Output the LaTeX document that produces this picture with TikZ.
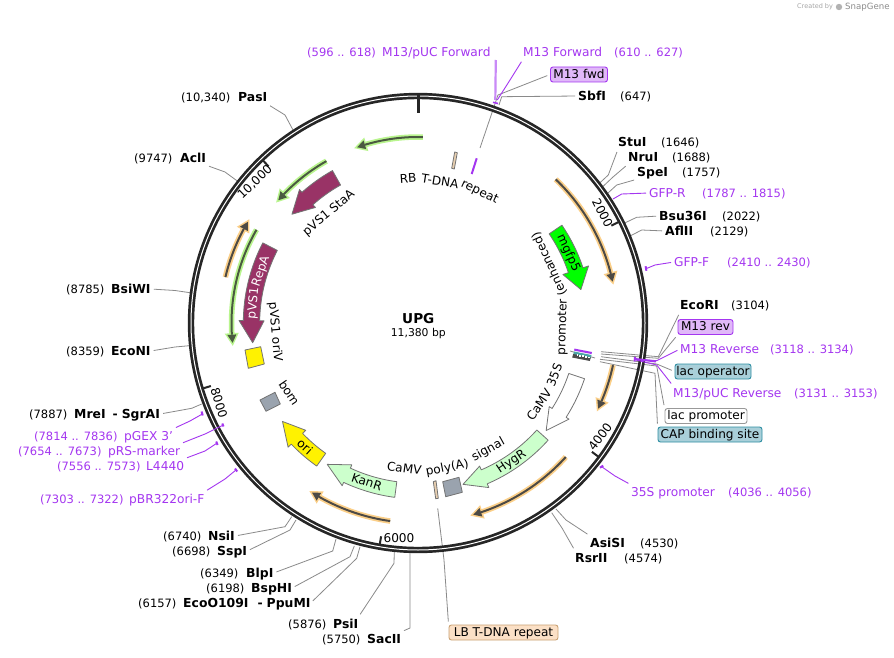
\documentclass[tikz,border=0pt]{standalone}
\usepackage{fontspec}
\setmainfont{DejaVu Sans}
\definecolor{pur}{HTML}{A436F0}
\definecolor{purl}{HTML}{C98AF7}
\definecolor{pvs}{HTML}{993366}
\definecolor{lg}{HTML}{CCFFCC}
\definecolor{grayf}{HTML}{9AA3AE}
\definecolor{tanf}{HTML}{E8CFB0}
\definecolor{ohalo}{HTML}{FBCF88}
\definecolor{ocore}{HTML}{4D4A45}
\definecolor{ghalo}{HTML}{B9F58E}
\definecolor{gcore}{HTML}{4A5A40}
\definecolor{lead}{HTML}{8A8A8A}
\definecolor{ringc}{HTML}{262626}
\definecolor{bluef}{HTML}{A9CFD9}
\definecolor{blued}{HTML}{2F8FA3}
\definecolor{purf}{HTML}{E0B8F8}
\definecolor{lbf}{HTML}{FBE0C6}
\definecolor{lbd}{HTML}{C9A173}
\tikzset{
  txt/.style={anchor=west,inner sep=0pt,text height=11.5pt,text depth=2.5pt,font=\fontsize{11.5}{14}\selectfont},
  bname/.style={txt,font=\fontsize{12.4}{15}\selectfont\bfseries},
  pname/.style={txt,text=pur,font=\fontsize{12.2}{15}\selectfont},
  pnum/.style={txt,text=pur},
  curved/.style={inner sep=0pt,font=\fontsize{12.1}{15}\selectfont},
  boxlab/.style={rounded corners=2.5pt,inner sep=0pt,line width=0.9pt,font=\fontsize{12.1}{15}\selectfont,text height=10pt,text depth=2.5pt},
  leadl/.style={draw=lead,line width=0.8pt,shorten <=3pt},
  primerl/.style={draw=pur,line width=0.9pt,shorten <=3pt},
  primerm/.style={draw=pur,line width=2pt},
  featl/.style={draw=black!55,line width=0.8pt,line join=round}
}
\newcommand\mkfeat[8]{\draw[featl,fill=#1] plot[domain=#2:#3,samples=24] ({\x-90}:{#5+#6}) -- ({#3-90}:{#5+#7}) -- ({#4-90}:{#5}) -- ({#3-90}:{#5-#7}) -- plot[domain=#3:#2,samples=24] ({\x-90}:{#5-#6}) -- cycle;#8}
\newcommand\mkorf[6]{%
  \draw[#1,line width=5.5pt,line cap=butt] plot[domain=#3:#4,samples=30] ({\x-90}:{#6});
  \filldraw[#1,line width=3pt,line join=miter] ({#4-90}:{#6+4.5}) -- ({#5-90}:{#6}) -- ({#4-90}:{#6-4.5}) -- cycle;
  \draw[#2,line width=2pt] plot[domain=#3:#4,samples=30] ({\x-90}:{#6});
  \fill[#2] ({#4-90}:{#6+4.5}) -- ({#5-90}:{#6}) -- ({#4-90}:{#6-4.5}) -- cycle;}
\newcommand\mktx[5]{\node[#4] (#1) at (#2,#3) {#5};}
\newcommand\mkldr[5]{\coordinate (#2b) at (#4);\coordinate (#2e) at (#5);\draw[#1] (#3) -- (#2b) -- (#2e);}
\newcommand\mkword[6]{\node[curved,rotate=#5,#6] (#1) at ({#2-90}:{#3}) {#4};}
\begin{document}
\begin{tikzpicture}[x=1pt,y=-1pt]
\path[fill=white] (0,0) rectangle (894,658);
\useasboundingbox (0,0) rectangle (894,658);

% SnapGene mark
\node[inner sep=0pt,anchor=west,text=black!35,font=\fontsize{6.5}{8}\selectfont] (created) at (797,7) {Created by};
\fill[black!30] (839,7) circle (3.2pt);
\node[inner sep=0pt,anchor=west,text=black!45,font=\fontsize{8.6}{10}\selectfont] (snap) at (845,7) {SnapGene};

% right-hand labels
\mktx{pufn}{307}{52}{pnum}{(596 .. 618)}
\mktx{puf}{382}{52}{pname}{M13/pUC Forward}
\mktx{mf}{523}{52}{pname}{M13 Forward}
\mktx{mfn}{614}{52}{pnum}{(610 .. 627)}
\mktx{sbf}{578}{96}{bname}{SbfI}
\mktx{sbfn}{620}{96}{txt}{(647)}
\mktx{stu}{618}{142}{bname}{StuI}
\mktx{stun}{661}{142}{txt}{(1646)}
\mktx{nru}{628}{157}{bname}{NruI}
\mktx{nrun}{672}{157}{txt}{(1688)}
\mktx{spe}{637}{172}{bname}{SpeI}
\mktx{spen}{682}{172}{txt}{(1757)}
\mktx{gfpr}{649}{193}{pname}{GFP-R}
\mktx{gfprn}{702}{193}{pnum}{(1787 .. 1815)}
\mktx{bsu}{659}{216}{bname}{Bsu36I}
\mktx{bsun}{722}{216}{txt}{(2022)}
\mktx{afl}{665}{231}{bname}{AflII}
\mktx{afln}{710}{231}{txt}{(2129)}
\mktx{gfpf}{674}{262}{pname}{GFP-F}
\mktx{gfpfn}{727}{262}{pnum}{(2410 .. 2430)}
\mktx{eco}{680}{305}{bname}{EcoRI}
\mktx{econ}{731}{305}{txt}{(3104)}
\mktx{mr}{680}{349}{pname}{M13 Reverse}
\mktx{mrn}{770}{349}{pnum}{(3118 .. 3134)}
\mktx{pur}{673}{393}{pname}{M13/pUC Reverse}
\mktx{purn}{794}{393}{pnum}{(3131 .. 3153)}
\mktx{p35}{631}{492}{pname}{35S promoter}
\mktx{p35n}{728}{492}{pnum}{(4036 .. 4056)}
\mktx{asi}{590}{543}{bname}{AsiSI}
\mktx{asin}{640}{543}{txt}{(4530)}
\mktx{rsr}{575}{558}{bname}{RsrII}
\mktx{rsrn}{624}{558}{txt}{(4574)}

% boxed labels
\node[boxlab,draw=pur,fill=purf,minimum width=57pt,minimum height=15pt] (mfwd) at (579,74.5) {M13 fwd};
\node[boxlab,draw=pur,fill=purf,minimum width=55pt,minimum height=15pt] (mrev) at (705.5,327) {M13 rev};
\node[boxlab,draw=blued,fill=bluef,minimum width=76pt,minimum height=15pt] (lacop) at (713,371.5) {lac operator};
\node[boxlab,draw=black!40,fill=white,minimum width=82pt,minimum height=15pt] (lacp) at (706,416) {lac promoter};
\node[boxlab,draw=blued,fill=bluef,minimum width=104pt,minimum height=15pt] (cap) at (710,434.5) {CAP binding site};
\node[boxlab,draw=lbd,fill=lbf,minimum width=109pt,minimum height=15pt] (lbrep) at (503.5,632.5) {LB T-DNA repeat};

% left-hand labels
\mktx{pasn}{181}{97}{txt}{(10,340)}
\mktx{pas}{238}{97}{bname}{PasI}
\mktx{acln}{134}{158}{txt}{(9747)}
\mktx{acl}{180}{158}{bname}{AclI}
\mktx{bsin}{66}{289}{txt}{(8785)}
\mktx{bsi}{111}{289}{bname}{BsiWI}
\mktx{econin}{66}{351}{txt}{(8359)}
\mktx{econi}{111}{351}{bname}{EcoNI}
\mktx{mren}{29}{414}{txt}{(7887)}
\mktx{mre}{74}{414}{bname}{MreI\hspace{7pt}-\hspace{4pt}SgrAI}
\mktx{pgexn}{34}{436}{pnum}{(7814 .. 7836)}
\mktx{pgex}{124}{436}{pname}{pGEX 3'}
\mktx{prsn}{18}{451}{pnum}{(7654 .. 7673)}
\mktx{prs}{108}{451}{pname}{pRS-marker}
\mktx{llln}{57}{466}{pnum}{(7556 .. 7573)}
\mktx{lll}{146}{466}{pname}{L4440}
\mktx{pbrn}{40}{499}{pnum}{(7303 .. 7322)}
\mktx{pbr}{129}{499}{pname}{pBR322ori-F}
\mktx{nsin}{163}{536}{txt}{(6740)}
\mktx{nsi}{208}{536}{bname}{NsiI}
\mktx{sspn}{172}{551}{txt}{(6698)}
\mktx{ssp}{217}{551}{bname}{SspI}
\mktx{blpn}{200}{573}{txt}{(6349)}
\mktx{blp}{246}{573}{bname}{BlpI}
\mktx{bspn}{206}{588}{txt}{(6198)}
\mktx{bsp}{251}{588}{bname}{BspHI}
\mktx{ecoon}{138}{603}{txt}{(6157)}
\mktx{ecoo}{183}{603}{bname}{EcoO109I\hspace{9pt}-\hspace{4pt}PpuMI}
\mktx{psin}{288}{624}{txt}{(5876)}
\mktx{psi}{333}{624}{bname}{PsiI}
\mktx{sacn}{322}{639}{txt}{(5750)}
\mktx{sac}{367}{639}{bname}{SacII}

% restriction / feature leaders (under the ring)
\mkldr{leadl}{lsbf}{sbf.west}{501.7,96.7}{499,105}
\mkldr{leadl}{lmfwd}{mfwd.west}{498,95}{480,148}
\mkldr{leadl}{lstu}{stu.south west}{608.3,175}{600,182.7}
\mkldr{leadl}{lnru}{nru.south west}{613,177}{602.7,186.7}
\mkldr{leadl}{lspe}{spe.south west}{616.7,185}{608,193}
\mkldr{leadl}{lbsu}{bsu.west}{636.7,217.3}{624,223.3}
\mkldr{leadl}{lafl}{afl.west}{641.7,230}{630.7,235.7}
\mkldr{leadl}{leco}{eco.south west}{658.3,356.7}{601,351.7}
\mkldr{leadl}{lmrev}{mrev.south west}{658.3,358.3}{601,354}
\mkldr{leadl}{llacop}{lacop.west}{656.7,364}{601,356.7}
\mkldr{leadl}{llacp}{lacp.north west}{656.7,366}{600,359.3}
\mkldr{leadl}{lcap}{cap.north west}{655,373.3}{600,361.7}
\mkldr{leadl}{lasi}{asi.north west}{566,520}{556,509}
\mkldr{leadl}{lrsr}{rsr.north west}{562,528}{551.7,512.7}
\mkldr{leadl}{lpas}{pas.south east}{285,115}{293,130}
\mkldr{leadl}{lacl}{acl.south east}{225,172}{237.3,181}
\mkldr{leadl}{lbsi}{bsi.east}{175,290.5}{190,292.7}
\mkldr{leadl}{leconi}{econi.east}{175,347}{189.3,345.7}
\mkldr{leadl}{lmre}{mre.east}{191.7,408.3}{201.7,404}
\mkldr{leadl}{lnsi}{nsi.east}{285,526.7}{291.7,516.7}
\mkldr{leadl}{lssp}{ssp.east}{290,530}{296,520}
\mkldr{leadl}{lblp}{blp.east}{332.7,551}{336,539}
\mkldr{leadl}{lbsp}{bsp.east}{350,556.7}{354.3,546}
\mkldr{leadl}{lecoo}{ecoo.east}{356.7,558.3}{360,546.7}
\mkldr{leadl}{lpsi}{psi.north east}{394,563.3}{394.3,551.7}
\mkldr{leadl}{lsac}{sac.north east}{410,628}{410,553.3}
\mkldr{leadl}{llb}{lbrep.north west}{444,560}{437.7,508.3}

\begin{scope}[shift={(418,323)}]
  % backbone
  \draw[ringc,line width=6.4pt] (0,0) circle (227pt);
  \draw[white,line width=1pt] (0,0) circle (227pt);
  % ticks
  \coordinate (t0a) at (-90:228); \coordinate (t0b) at (-90:210);
  \draw[ringc,line width=3pt] (t0a) -- (t0b);
  \foreach \bp/\nm in {63.27/ta,126.54/tb,189.81/tc,253.08/td,316.35/te}{
    \coordinate (\nm a) at ({\bp-90}:226); \coordinate (\nm b) at ({\bp-90}:216.5);
    \draw[ringc,line width=2pt] (\nm a) -- (\nm b);
  }
  % ORF arcs
  \mkorf{ghalo}{gcore}{1.5}{-16.6}{-19.1}{186}
  \mkorf{ghalo}{gcore}{-29.5}{-46.2}{-48.7}{186}
  \mkorf{ohalo}{ocore}{-76.6}{-61.6}{-59.3}{198}
  \mkorf{ghalo}{gcore}{-60}{-93.6}{-96.1}{186.5}
  \mkorf{ohalo}{ocore}{188}{209.7}{212}{200}
  \mkorf{ohalo}{ocore}{132.2}{161.6}{163.9}{199.5}
  \mkorf{ohalo}{ocore}{102.2}{113.1}{115.4}{199.5}
  \mkorf{ohalo}{ocore}{43.8}{75.7}{78}{199}
  % features
  \mkfeat{pvs}{-29.3}{-41.6}{-49.2}{166.5}{8.3}{12}{}
  \mkfeat{pvs}{-62.7}{-89.2}{-96.8}{166.5}{8.2}{12.5}{}
  \mkfeat{yellow}{215.3}{226.3}{234}{167.5}{7.8}{12.2}{}
  \mkfeat{lg}{187.6}{205}{212.7}{168}{7.9}{11.5}{}
  \mkfeat{lg}{132}{156.7}{164.4}{167.5}{7.6}{11.7}{}
  \mkfeat{white}{108.5}{122.5}{130}{167.3}{8.3}{11.7}{}
  \mkfeat{green}{55.8}{71.5}{78.4}{166.3}{7.7}{13.5}{}
  % curved / rotated feature labels
  \mkword{rbA}{-3.9}{145}{RB}{3.9}{}
  \mkword{rbB}{8.8}{143.5}{T-DNA}{-8.8}{}
  \mkword{rbC}{25.2}{144.5}{repeat}{-25}{}
  \mkword{c35A}{124}{146}{CaMV}{56}{}
  \mkword{c35B}{110.8}{146}{35S}{69}{}
  \mkword{c35C}{91.6}{145}{promoter}{88.4}{}
  \mkword{c35D}{65.8}{144}{(enhanced)}{114.2}{}
  \mkword{mg}{65.1}{165.7}{mgfp5}{-65}{}
  \mkword{hyg}{146}{167.4}{HygR}{34}{}
  \mkword{kan}{197.9}{166.8}{KanR}{-18}{}
  \mkword{orit}{222.4}{167.5}{ori}{-42}{}
  \mkword{ry}{-83.2}{165.5}{pVS1}{84}{text=white}
  \mkword{ry2}{-71.8}{165}{RepA}{71}{text=white}
\end{scope}

% free-standing rotated labels
\node[curved,rotate=40] (stalab) at (329,213.3) {pVS1 StaA};
\node[curved,rotate=-85] (orivlab) at (275,332) {pVS1 oriV};
\node[curved,rotate=-56] (bomlab) at (289.3,392.7) {bom};
\node[curved,rotate=-8] (polyA) at (404.3,468.3) {CaMV};
\node[curved,rotate=11] (polyB) at (447.3,468.3) {poly(A)};
\node[curved,rotate=29] (polyC) at (488.3,450) {signal};
% tick labels
\node[curved,rotate=-63] (t2k) at (602.5,213) {2000};
\node[curved,rotate=53] (t4k) at (600,437) {4000};
\node[curved] (t6k) at (399,538) {6000};
\node[curved,rotate=-73] (t8k) at (219,403) {8000};
\node[curved,rotate=44] (t10k) at (255,182) {10,000};
% centre
\node[inner sep=0pt,font=\fontsize{13.6}{16}\selectfont\bfseries] (upg) at (418.3,319) {UPG};
\node[inner sep=0pt,font=\fontsize{10.8}{13}\selectfont] (size) at (418.3,334) {11,380 bp};

% small features
\draw[featl,fill=yellow] (245,350) -- (260.7,346.7) -- (264.3,364) -- (248.3,368.3) -- cycle;
\draw[featl,fill=grayf] (260,400) -- (275,392.3) -- (280.3,404) -- (266,411.3) -- cycle;
\draw[featl,fill=grayf] (442.7,481.7) -- (459,477.3) -- (462.3,492.3) -- (445.7,496.7) -- cycle;
\draw[featl,fill=tanf] (433.3,481.7) -- (436,480.7) -- (438.3,498.3) -- (435.7,498.7) -- cycle;
\draw[featl,fill=tanf] (451.7,168.3) -- (454.3,169) -- (457.3,152.7) -- (454.7,152) -- cycle;
\draw[pur,line width=2pt] (471.7,174) -- (476.7,158.3);
% MCS cluster
\draw[lead,line width=0.8pt] (570,351) -- (595,358);
\fill[teal!70] (574,351.5) -- (591.5,355) -- (590.5,358.5) -- (573,355) -- cycle;
\fill[black!70] (573.2,354) -- (590.8,357.5) -- (589.8,361) -- (572.2,357.5) -- cycle;
\fill[pur] (574.5,348.6) -- (592,352) -- (591.5,354) -- (574,350.6) -- cycle;
\foreach \k in {0,1,2,3,4}{\fill[white] ({576.5+\k*2.9},{354.2+\k*0.6}) rectangle ++(1.7,1.7);}

% primer leaders
\draw[purl,line width=2.2pt] (495.8,60) coordinate (pufa) -- (495.3,100) coordinate (pufb);
\mkldr{primerl}{lmf}{mf.south west}{510,80}{497.3,100}
\draw[pur,line width=1.6pt] (493,102.3) -- (498,103.5);
\mkldr{primerl}{lgfpr}{gfpr.west}{621.7,194}{613,199}
\mkldr{primerl}{lgfpf}{gfpf.west}{655,265}{646,268.7}
\draw[primerm] (645.6,266.2) -- (646.4,270.8);
\mkldr{primerl}{lmr}{mr.west}{656.7,360.7}{635,359}
\mkldr{primerl}{lpur}{pur.north west}{656.7,365}{636,360}
\draw[pur,line width=2pt] (635,359) -- (656,361.5);
\draw[primerm] (635,357) -- (634.6,361.5);
\mkldr{primerl}{lp35}{p35.north west}{615,476}{601.7,466.7}
\draw[primerm] (600,467.7) -- (603.2,465.6);
\mkldr{primerl}{lpgex}{pgex.north east}{190,421}{202.3,414}
\draw[primerm] (201.6,411.5) -- (202.7,415.5);
\mkldr{primerl}{lprs}{prs.north east}{205,434}{223.3,425}
\draw[primerm] (222.3,423.5) -- (223.5,426.5);
\mkldr{primerl}{llll}{lll.north east}{205,451}{216.7,443.3}
\draw[primerm] (216.2,441.5) -- (217.6,445);
\mkldr{primerl}{lpbr}{pbr.north east}{225,479}{236,470}
\draw[primerm] (235,468.5) -- (237.2,471.5);
\end{tikzpicture}
\end{document}
